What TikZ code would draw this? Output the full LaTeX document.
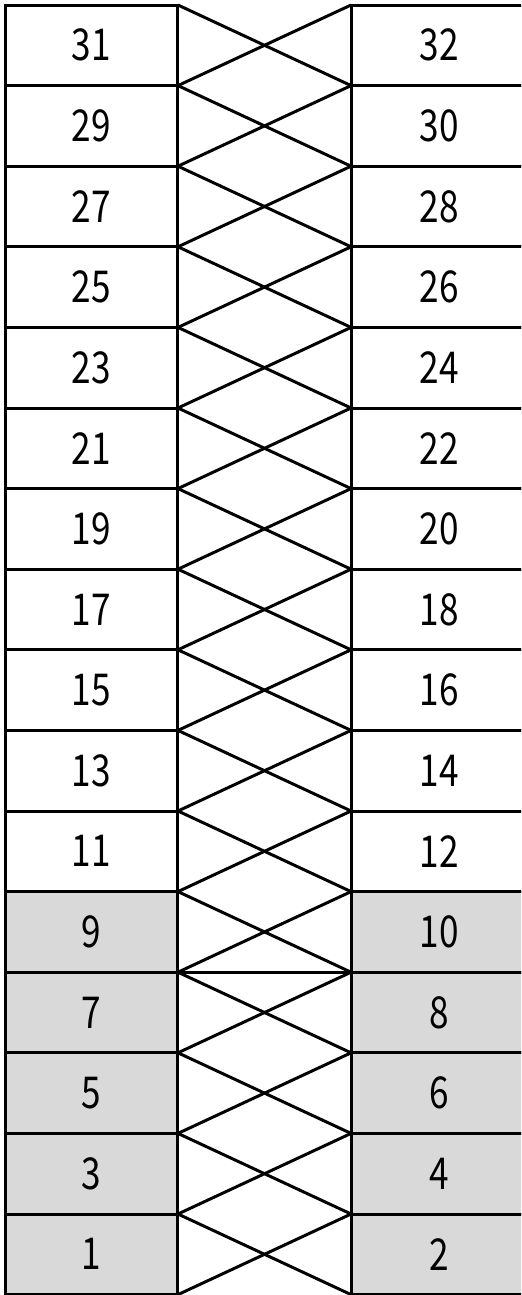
\documentclass[tikz,border=0pt]{standalone}
\usepackage{fontspec}
\newfontfamily\cellfont[FakeStretch=0.8]{Noto Sans CJK JP}
\definecolor{cellgray}{HTML}{D9D9D9}
\tikzset{
  cell/.style={draw, rectangle, inner sep=0pt, outer sep=0pt, line width=1.7pt,
    minimum height=1.612cm, font=\cellfont\fontsize{25}{25}\selectfont},
  leftcell/.style={cell, minimum width=3.46cm},
  rightcell/.style={cell, minimum width=3.52cm},
  cross/.style={line width=1.7pt}
}
\begin{document}
\begin{tikzpicture}[x=0.02cm, y=-0.02cm]
  \clip (0,0) rectangle (521,1295);
  \fill[white] (0,0) rectangle (521,1295);
  % 两列编号格
  \foreach \r in {0,...,15}{
    \pgfmathtruncatemacro\lnum{31-2*\r}
    \pgfmathtruncatemacro\rnum{\lnum+1}
    \ifnum\r>10 \def\cellfill{cellgray}\else\def\cellfill{white}\fi
    \node[leftcell, fill=\cellfill] (L\lnum) at (91.5, 5+80.6*\r+40.3) {\lnum};
    \node[rightcell, fill=\cellfill] (R\rnum) at (439, 5+80.6*\r+40.3) {\rnum};
  }
  % 交叉连线
  \foreach \r in {0,...,15}{
    \pgfmathtruncatemacro\lnum{31-2*\r}
    \pgfmathtruncatemacro\rnum{\lnum+1}
    \draw[cross] (L\lnum.north east) -- (R\rnum.south west);
    \draw[cross] (L\lnum.south east) -- (R\rnum.north west);
  }
  \draw[cross] (L9.south east) -- (R10.south west);
\end{tikzpicture}
\end{document}
